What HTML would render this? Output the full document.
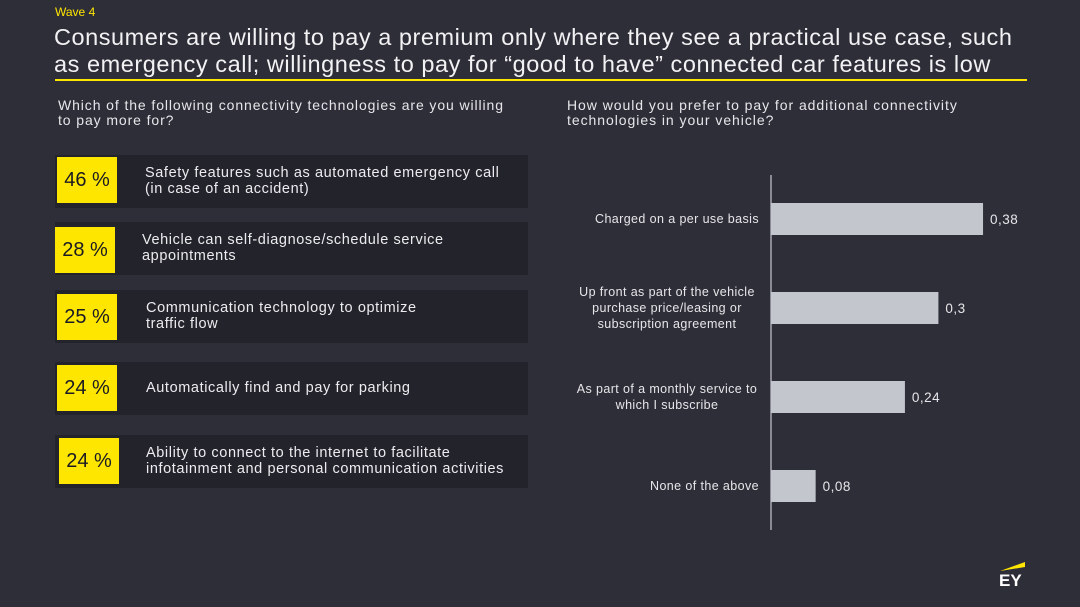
<!DOCTYPE html>
<html><head><meta charset="utf-8"><style>
body{margin:0;width:1080px;height:607px;background:#2e2e38;font-family:"Liberation Sans",sans-serif;color:#e6e6ea;position:relative;overflow:hidden}
.a{position:absolute}
.card{position:absolute;left:55px;width:473px;height:53px;background:#23232b}
.yb{position:absolute;width:60px;height:46px;background:#ffe600;color:#1a1a24;font-size:20px;line-height:46px;text-align:center}
.ct{position:absolute;font-size:14.5px;line-height:16px;color:#ececf0;letter-spacing:0.6px;white-space:nowrap}
</style></head><body>
<div class="a" style="left:55px;top:5px;font-size:12px;color:#ffe600">Wave 4</div>
<div class="a" style="left:54px;top:24px;font-size:23.5px;line-height:27px;color:#f2f2f4;white-space:nowrap;letter-spacing:0.55px">Consumers are willing to pay a premium only where they see a practical use case, such<br>as emergency call; willingness to pay for “good to have” connected car features is low</div>
<div class="a" style="left:55px;top:79px;width:972px;height:2px;background:#ffe600"></div>
<div class="a" style="left:58px;top:98px;font-size:14px;line-height:15px;letter-spacing:0.9px;white-space:nowrap">Which of the following connectivity technologies are you willing<br>to pay more for?</div>
<div class="a" style="left:567px;top:98px;font-size:14px;line-height:15px;letter-spacing:0.95px;white-space:nowrap">How would you prefer to pay for additional connectivity<br>technologies in your vehicle?</div>
<div id="cards"></div>
<svg class="a" style="left:0;top:0" width="1080" height="607" id="chart"></svg>
<div class="a" style="left:998px;top:561px;width:30px;height:32px">
<svg width="30" height="12" style="position:absolute;left:0;top:0"><polygon points="2,10 27,1 27,6" fill="#ffe600"/></svg>
<div style="position:absolute;left:1px;top:10px;font-size:17px;font-weight:bold;color:#fff">EY</div></div>
<script>
const pcts=["46 %","28 %","25 %","24 %","24 %"];
const items=["Safety features such as automated emergency call<br>(in case of an accident)","Vehicle can self-diagnose/schedule service<br>appointments","Communication technology to optimize<br>traffic flow","Automatically find and pay for parking","Ability to connect to the internet to facilitate<br>infotainment and personal communication activities"];
const cardTop=[155,222,290,362,435], ybX=[57,55,57,57,59], ybY=[157,227,294,365,438], txX=[145,142,146,146,146];
const cc=document.getElementById('cards');
items.forEach((t,i)=>{
 const c=document.createElement('div');c.className='card';c.style.top=cardTop[i]+'px';
 
 
 cc.appendChild(c);
 const y=document.createElement('div');y.className='yb';y.style.left=ybX[i]+'px';y.style.top=ybY[i]+'px';y.textContent=pcts[i];
 
 
 cc.appendChild(y);
 const tx=document.createElement('div');tx.className='ct';tx.style.left=txX[i]+'px';tx.innerHTML=t;
 const lines=t.split('<br>').length;tx.style.top=(cardTop[i]+26-lines*8)+'px';
 
 
 cc.appendChild(tx);
});
const cats=[["Charged on a per use basis"],["Up front as part of the vehicle","purchase price/leasing or","subscription agreement"],["As part of a monthly service to","which I subscribe"],["None of the above"]];
const vals=[0.38,0.3,0.24,0.08];
const valLabels=["0,38","0,3","0,24","0,08"];
const NS='http://www.w3.org/2000/svg',svg=document.getElementById('chart');
const x0=771,k=558,y=i=>219+i*89,bh=32;
function el(n,a){const e=document.createElementNS(NS,n);for(const q in a)e.setAttribute(q,a[q]);svg.appendChild(e);return e;}
const ax=el('line',{x1:x0,x2:x0,y1:175,y2:530,stroke:'#c8c8d0','stroke-width':1.2});


vals.forEach((v,i)=>{
 const r=el('rect',{x:x0,y:y(i)-bh/2,width:v*k,height:bh,fill:'#c4c6ce'});
 
 
 const t=el('text',{x:x0+v*k+7,y:y(i)+5,fill:'#e6e6ea','font-size':13.5,'letter-spacing':0.5,'font-family':'Liberation Sans'});t.textContent=valLabels[i];
 
 
 const n=cats[i].length;
 cats[i].forEach((ln,j)=>{
  const c=el('text',{x:759,y:y(i)+4+(j-(n-1)/2)*16,fill:'#e6e6ea','font-size':12.5,'letter-spacing':0.4,'text-anchor':n>1?'middle':'end','font-family':'Liberation Sans'});
  if(n>1)c.setAttribute('x',667);
  c.textContent=ln;
  
  
 });
});
</script>
</body></html>
